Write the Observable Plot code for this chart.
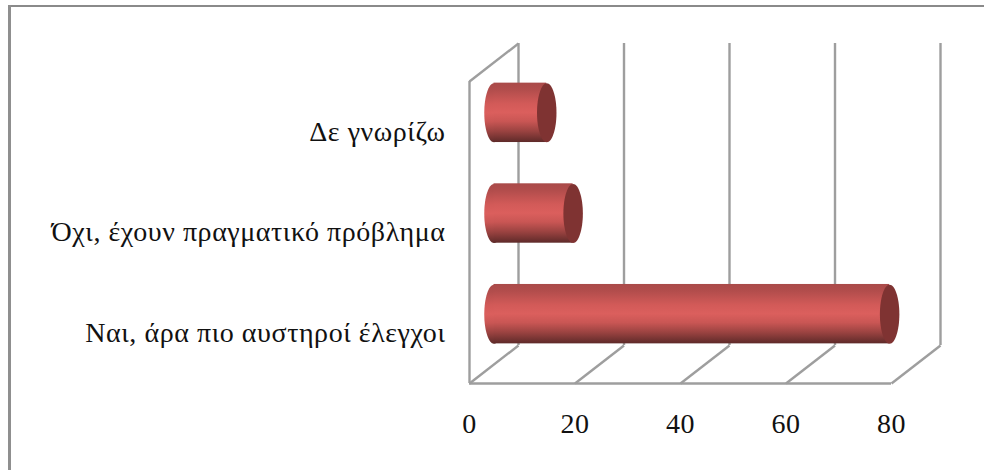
<!DOCTYPE html>
<html>
<head>
<meta charset="utf-8">
<script src="https://cdn.jsdelivr.net/npm/d3@7"></script>
<script src="https://cdn.jsdelivr.net/npm/@observablehq/plot@0.6"></script>
<style>
  html, body { margin: 0; padding: 0; background: #fff; }
  #chart { position: relative; width: 984px; height: 470px; overflow: hidden; }
  #chart svg { display: block; }
  #chart svg text { letter-spacing: 0.55px; }
  #edge-top { position: absolute; left: 8px; top: 5px; right: 0; height: 2px; background: #8a8a8a; }
  #edge-left { position: absolute; left: 8px; top: 5px; bottom: 0; width: 3px; background: #8f8f8f; }
</style>
</head>
<body>
<div id="chart"><div id="edge-top"></div><div id="edge-left"></div></div>
<script>
// Survey answers, horizontal cylinder bars on an oblique floor and back wall
const categories = ["Ναι, άρα πιο αυστηροί έλεγχοι", "Όχι, έχουν πραγματικό πρόβλημα", "Δε γνωρίζω"];
const values = [75, 15, 10];
const xTicks = [0, 20, 40, 60, 80];

// Oblique projection: depth is measured in x units and y units of the front plane
const depthX = 9.29;
const depthY = 38 / 100.67;
const yMax = 3;
const barHalf = 0.295;

const rows = categories.map((name, i) => ({
  name, value: values[i],
  x: depthX / 2,
  y: i + 0.5 + depthY / 2
}));

// Lens-shaped end cap for a cylinder, stretched vertically around its centre
const capAspect = 0.33;
const capSymbol = {
  draw(ctx, size) {
    const ry = Math.sqrt(size / Math.PI);
    const rx = ry * capAspect;
    const k = 0.5523;
    ctx.moveTo(0, -ry);
    ctx.bezierCurveTo(rx * k, -ry, rx, -ry * k, rx, 0);
    ctx.bezierCurveTo(rx, ry * k, rx * k, ry, 0, ry);
    ctx.bezierCurveTo(-rx * k, ry, -rx, ry * k, -rx, 0);
    ctx.bezierCurveTo(-rx, -ry * k, -rx * k, -ry, 0, -ry);
    ctx.closePath();
  }
};

const gradientDefs = () => {
  const defs = d3.create("svg:defs");
  const g = defs.append("linearGradient").attr("id", "tube")
    .attr("x1", 0).attr("x2", 0).attr("y1", 0).attr("y2", 1);
  [[0, "#a94a49"], [0.12, "#b24d4c"], [0.35, "#d25a58"], [0.5, "#db5f5d"],
   [0.65, "#c95654"], [0.82, "#994240"], [1, "#5e2a29"]]
    .forEach(([o, c]) => g.append("stop").attr("offset", o).attr("stop-color", c));
  return defs.node();
};

const gridColor = "#9e9e9e";
const lineWidth = 2.4;
const chart = Plot.plot({
  width: 984,
  height: 470,
  marginLeft: 469,
  marginRight: 93,
  marginTop: 81,
  marginBottom: 87,
  style: { background: "transparent", fontFamily: "'Liberation Serif', serif", overflow: "visible" },
  x: { domain: [0, 80], range: [469, 891] },
  y: { domain: [0, yMax], range: [383, 81], axis: null },
  marks: [
    gradientDefs,
    // Floor front edge and left wall front edge
    Plot.ruleY([0], { x1: 0, x2: 80, stroke: gridColor, strokeWidth: lineWidth }),
    Plot.ruleX([0], { y1: 0, y2: yMax, stroke: gridColor, strokeWidth: lineWidth }),
    // Oblique floor lines and the top edge of the left wall
    Plot.link(xTicks, { x1: d => d, y1: 0, x2: d => d + depthX, y2: depthY, stroke: gridColor, strokeWidth: lineWidth }),
    Plot.link([0], { x1: 0, y1: yMax, x2: depthX, y2: yMax + depthY, stroke: gridColor, strokeWidth: lineWidth }),
    // Back wall gridlines
    Plot.ruleX(xTicks.map(d => d + depthX), { y1: depthY, y2: yMax + depthY, stroke: gridColor, strokeWidth: lineWidth }),
    // Cylinder body with its rounded near end
    Plot.dot(rows, { x: "x", y: "y", r: 29.5, symbol: capSymbol, fill: "url(#tube)", stroke: "none" }),
    Plot.rect(rows, {
      x1: "x", x2: d => d.x + d.value,
      y1: d => d.y - barHalf, y2: d => d.y + barHalf,
      fill: "url(#tube)", inset: 0
    }),
    // Far end cap
    Plot.dot(rows, { x: d => d.x + d.value, y: "y", r: 29.5, symbol: capSymbol, fill: "#7f3332", stroke: "none" }),
    // Category labels
    Plot.text(rows, {
      x: 0, y: d => d.y - depthY / 2, text: "name", dx: -24, textAnchor: "end",
      fontSize: 28, fill: "#111"
    }),
    Plot.axisX(xTicks, {
      anchor: "bottom", tickSize: 0, tickPadding: 30, label: null,
      fontSize: 28, tickFormat: d => String(d), fill: "#111"
    })
  ]
});
document.getElementById("chart").appendChild(chart);
</script>
</body>
</html>
